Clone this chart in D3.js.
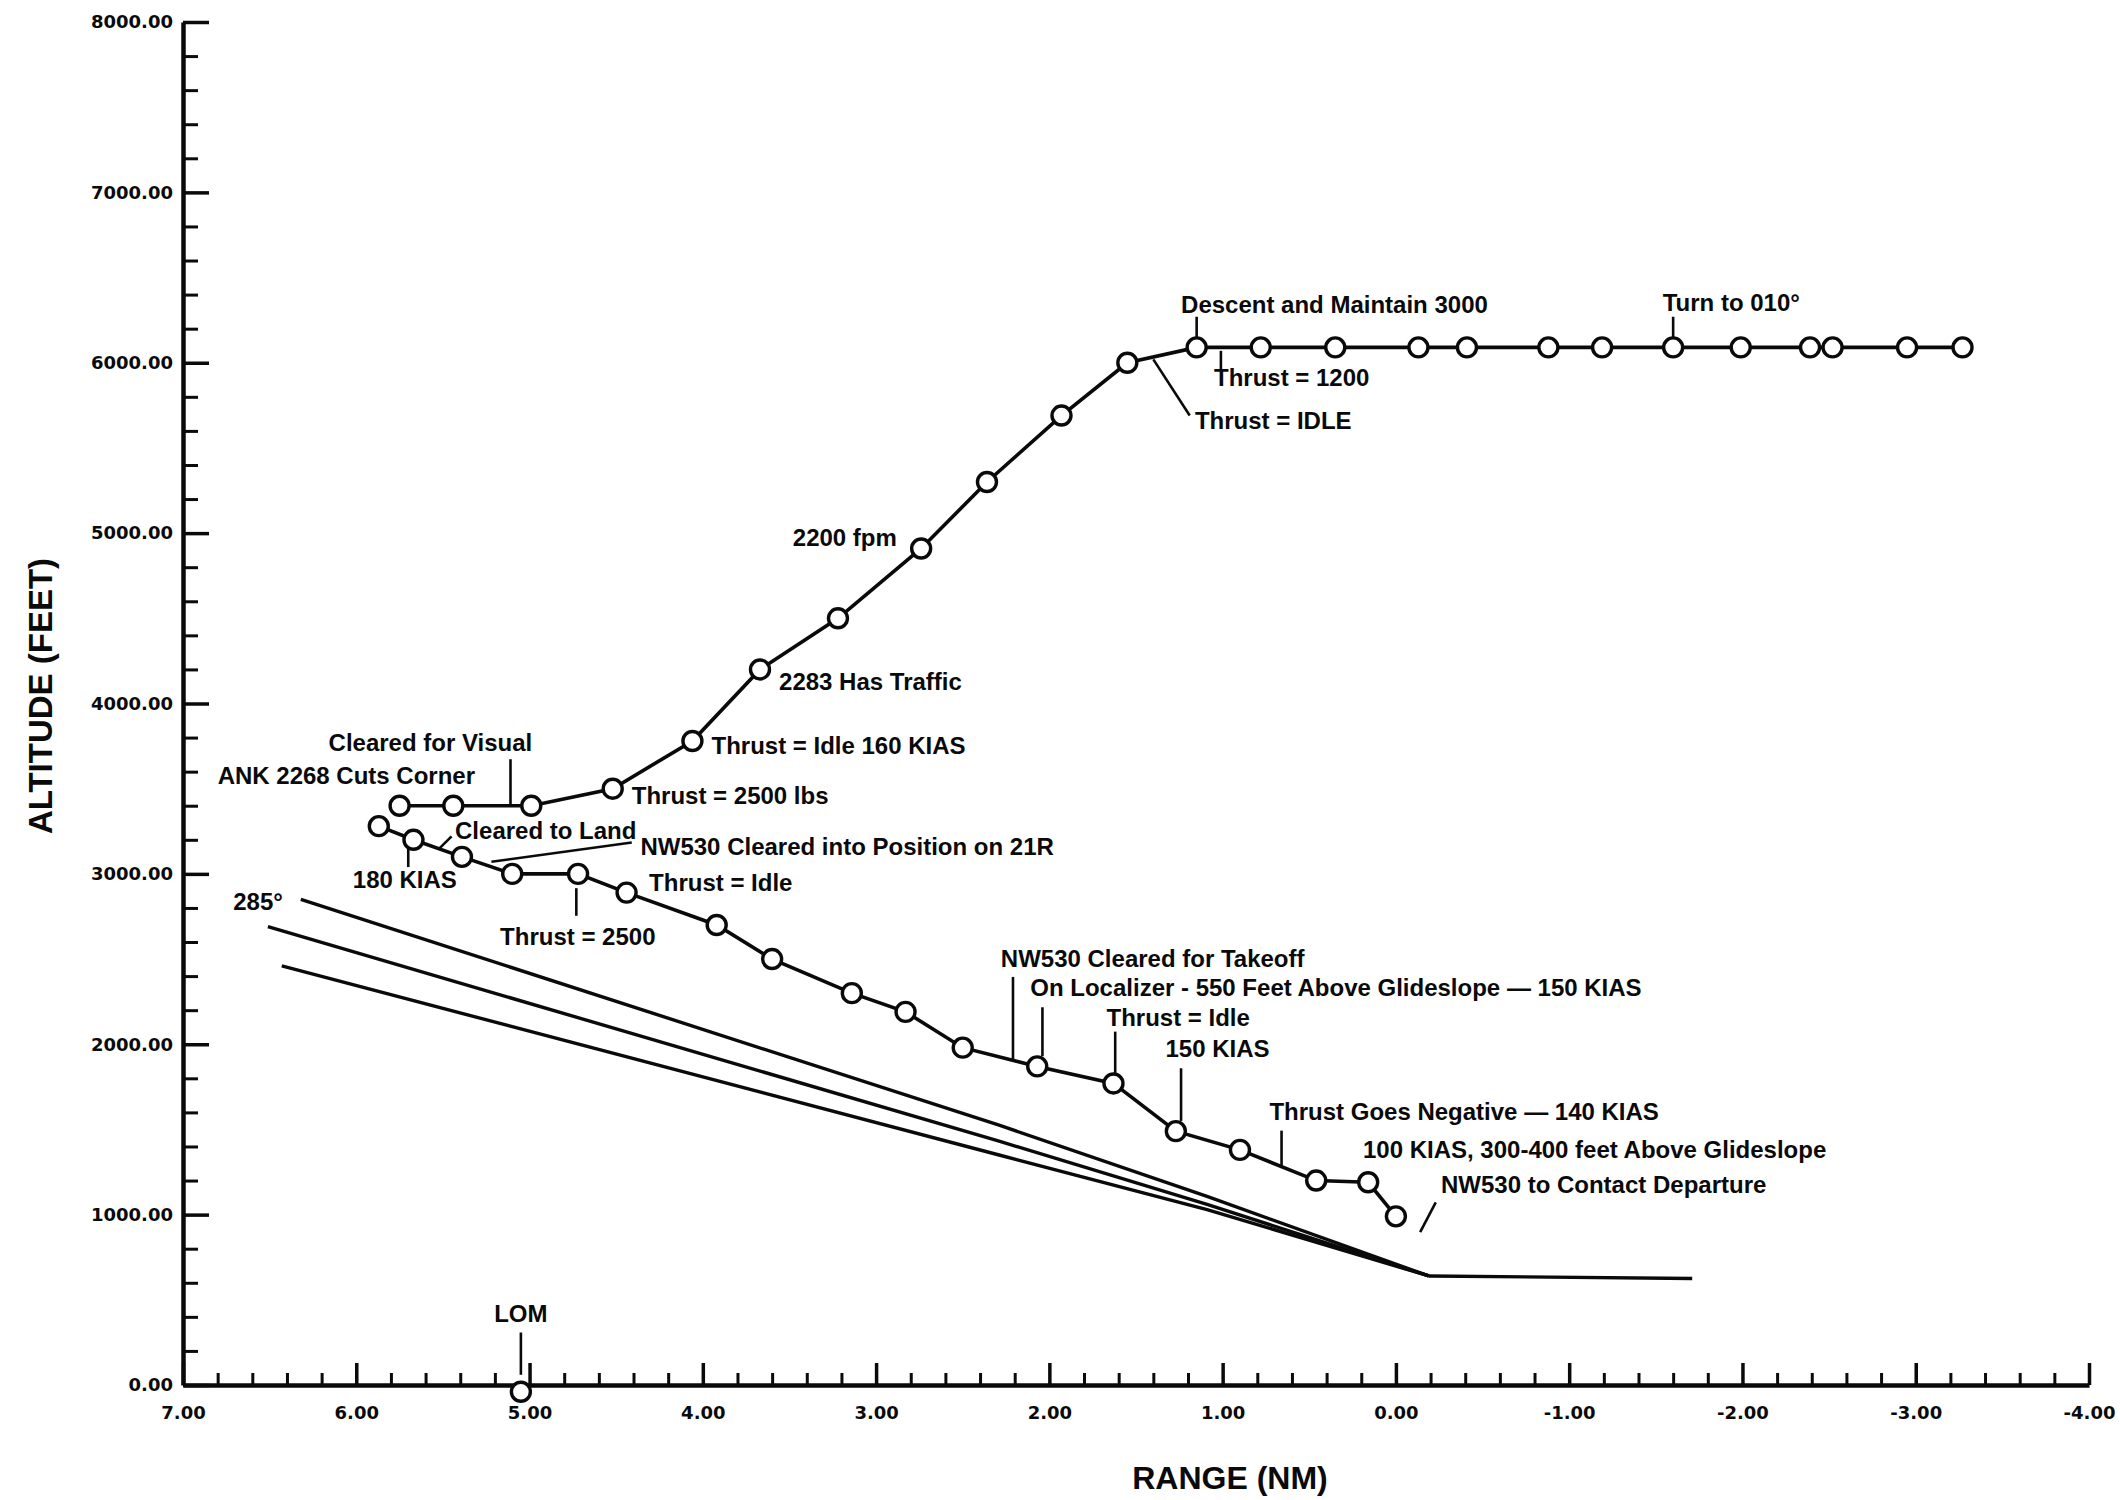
<!DOCTYPE html>
<html><head><meta charset="utf-8">
<script src="https://cdn.jsdelivr.net/npm/d3@7/dist/d3.min.js"></script>
<style>body{margin:0;background:#fff}svg{display:block}</style>
</head><body>
<svg id="c" width="2120" height="1500"></svg>
<script>
// ---- data (range in NM, altitude in feet) ----
const upperRange = [5.75,5.44,4.99,4.52,4.06,3.67,3.22,2.74,2.36,1.93,1.55,1.15,0.78,0.35,-0.13,-0.41,-0.88,-1.19,-1.60,-1.99,-2.39,-2.52,-2.95,-3.27];
const upperAlt   = [3400,3400,3400,3500,3780,4200,4500,4910,5300,5690,6000,6090,6090,6090,6090,6090,6090,6090,6090,6090,6090,6090,6090,6090];
const lowerRange = [5.87,5.67,5.39,5.10,4.72,4.44,3.92,3.60,3.14,2.83,2.50,2.07,1.63,1.27,0.90,0.46,0.16,0.00];
const lowerAlt   = [3280,3200,3100,3000,3000,2890,2700,2500,2300,2190,1980,1870,1770,1490,1380,1200,1190,990];
const gsTopRange = [6.32,2.29,1.09,-0.19];
const gsTopAlt   = [2850,1525,1107,640];
const gsMidRange = [6.51,2.29,1.09,-0.19];
const gsMidAlt   = [2690,1431,1060,640];
const gsLowRange = [6.43,2.29,1.09,-0.19];
const gsLowAlt   = [2460,1350,1030,640];
const rwyRange   = [-0.19,-1.71];
const rwyAlt     = [640,625];
const lomRange = 5.05, lomAlt = -40;

const xTickValues = [7,6,5,4,3,2,1,0,-1,-2,-3,-4];
const yTickValues = [0,1000,2000,3000,4000,5000,6000,7000,8000];

const noteLabels = ["Descent and Maintain 3000","Turn to 010°","Thrust = 1200","Thrust = IDLE","2200 fpm","2283 Has Traffic",
  "Thrust = Idle 160 KIAS","Thrust = 2500 lbs","Cleared for Visual","ANK 2268 Cuts Corner","Cleared to Land","180 KIAS",
  "NW530 Cleared into Position on 21R","Thrust = Idle","Thrust = 2500","285°","NW530 Cleared for Takeoff",
  "On Localizer - 550 Feet Above Glideslope — 150 KIAS","Thrust = Idle","150 KIAS","Thrust Goes Negative — 140 KIAS",
  "100 KIAS, 300-400 feet Above Glideslope","NW530 to Contact Departure","LOM"];
const noteRange = [1.24,-1.54,1.05,1.16,2.88,3.56,3.95,4.41,6.16,6.80,5.43,6.02,4.36,4.31,5.17,6.71,2.28,2.11,1.67,1.33,0.73,0.19,-0.26,5.05];
const noteAlt   = [6290,6306,5862,5614,4922,4079,3705,3410,3721,3525,3204,2917,3108,2901,2583,2790,2456,2281,2106,1923,1557,1334,1127,371];
const noteAnchor= ["start","start","start","start","end","start","start","start","start","start","start","start","start","start","start","start","start","start","start","start","start","start","start","middle"];

const leadRange1 = [1.15,1.01,-1.60,1.40,5.11,5.70,5.45,4.41,4.73,2.21,2.04,1.62,1.24,0.66,-0.14,5.05];
const leadAlt1   = [6270,6070,6270,6020,3673,3180,3220,3184,2916,2395,2217,2074,1859,1493,897,308];
const leadRange2 = [1.15,1.01,-1.60,1.19,5.11,5.70,5.52,5.22,4.73,2.21,2.04,1.62,1.24,0.66,-0.23,5.05];
const leadAlt2   = [6150,5950,6150,5690,3400,3040,3150,3071,2754,1906,1930,1830,1550,1290,1072,60];

// ---- chart ----
const svg = d3.select("#c");
svg.append("rect").attr("width",2120).attr("height",1500).attr("fill","#fff");
const ink = "#0a0a0a";
const x = d3.scaleLinear().domain([7,-4]).range([183,2089]);
const y = d3.scaleLinear().domain([0,8000]).range([1385,22]);
const fmt = d => d3.format(".2f")(d).replace("\u2212","-");

// minor ticks
const xMinor = d3.range(0,56).map(i => +(7 - i*0.2).toFixed(1)).filter(v => Math.abs(v-Math.round(v))>1e-6);
const yMinor = d3.range(0,41).map(i => i*200).filter(v => v%1000!==0);

svg.append("g").attr("transform",`translate(0,${y(0)})`)
  .call(d3.axisBottom(x).tickValues(xMinor).tickSize(-12).tickSizeOuter(0).tickFormat(""))
  .call(g=>g.select(".domain").remove())
  .call(g=>g.selectAll("line").attr("stroke",ink).attr("stroke-width",3));
svg.append("g").attr("transform",`translate(${x(7)},0)`)
  .call(d3.axisLeft(y).tickValues(yMinor).tickSize(-15).tickSizeOuter(0).tickFormat(""))
  .call(g=>g.select(".domain").remove())
  .call(g=>g.selectAll("line").attr("stroke",ink).attr("stroke-width",3));

const xAxis = svg.append("g").attr("transform",`translate(0,${y(0)})`)
  .call(d3.axisBottom(x).tickValues(xTickValues).tickSize(-22).tickSizeOuter(0).tickPadding(21).tickFormat(fmt));
const yAxis = svg.append("g").attr("transform",`translate(${x(7)},0)`)
  .call(d3.axisLeft(y).tickValues(yTickValues).tickSize(-26).tickSizeOuter(0).tickPadding(10).tickFormat(fmt));
[xAxis,yAxis].forEach(g=>{
  g.select(".domain").attr("stroke",ink).attr("stroke-width",4.5);
  g.selectAll(".tick line").attr("stroke",ink).attr("stroke-width",3.5);
  g.selectAll(".tick text").attr("fill",ink).attr("font-family","DejaVu Sans").attr("font-weight","bold").attr("font-size",18);
});

// axis titles
svg.append("text").attr("x",1230).attr("y",1489).attr("text-anchor","middle")
  .attr("font-family","Liberation Sans").attr("font-weight","bold").attr("font-size",32).attr("fill",ink).text("RANGE (NM)");
svg.append("text").attr("transform","translate(52,696) rotate(-90)").attr("text-anchor","middle")
  .attr("font-family","Liberation Sans").attr("font-weight","bold").attr("font-size",33).attr("fill",ink).text("ALTITUDE (FEET)");

// glideslope lines
const line = d3.line().x(d=>x(d[0])).y(d=>y(d[1]));
const zip = (a,b)=>a.map((v,i)=>[v,b[i]]);
[[gsTopRange,gsTopAlt],[gsMidRange,gsMidAlt],[gsLowRange,gsLowAlt],[rwyRange,rwyAlt]].forEach(([r,a])=>{
  svg.append("path").attr("d",line(zip(r,a))).attr("fill","none").attr("stroke",ink).attr("stroke-width",3.4);
});

// leaders
svg.append("g").selectAll("line").data(leadRange1).join("line")
  .attr("x1",(d,i)=>x(leadRange1[i])).attr("y1",(d,i)=>y(leadAlt1[i]))
  .attr("x2",(d,i)=>x(leadRange2[i])).attr("y2",(d,i)=>y(leadAlt2[i]))
  .attr("stroke",ink).attr("stroke-width",2.6);

// series
[[upperRange,upperAlt],[lowerRange,lowerAlt]].forEach(([r,a])=>{
  const pts = zip(r,a);
  svg.append("path").attr("d",line(pts)).attr("fill","none").attr("stroke",ink).attr("stroke-width",3.6);
  svg.append("g").selectAll("circle").data(pts).join("circle")
    .attr("cx",d=>x(d[0])).attr("cy",d=>y(d[1])).attr("r",9.5)
    .attr("fill","#fff").attr("stroke",ink).attr("stroke-width",3.4);
});
// LOM marker
svg.append("circle").attr("cx",x(lomRange)).attr("cy",y(lomAlt)).attr("r",9.5)
  .attr("fill","#fff").attr("stroke",ink).attr("stroke-width",3.4);

// annotation texts
svg.append("g").selectAll("text").data(noteLabels).join("text")
  .attr("x",(d,i)=>x(noteRange[i])).attr("y",(d,i)=>y(noteAlt[i]))
  .attr("text-anchor",(d,i)=>noteAnchor[i])
  .attr("font-family","Liberation Sans").attr("font-weight","bold").attr("font-size",24)
  .attr("fill",ink).text(d=>d);
</script>
</body></html>
